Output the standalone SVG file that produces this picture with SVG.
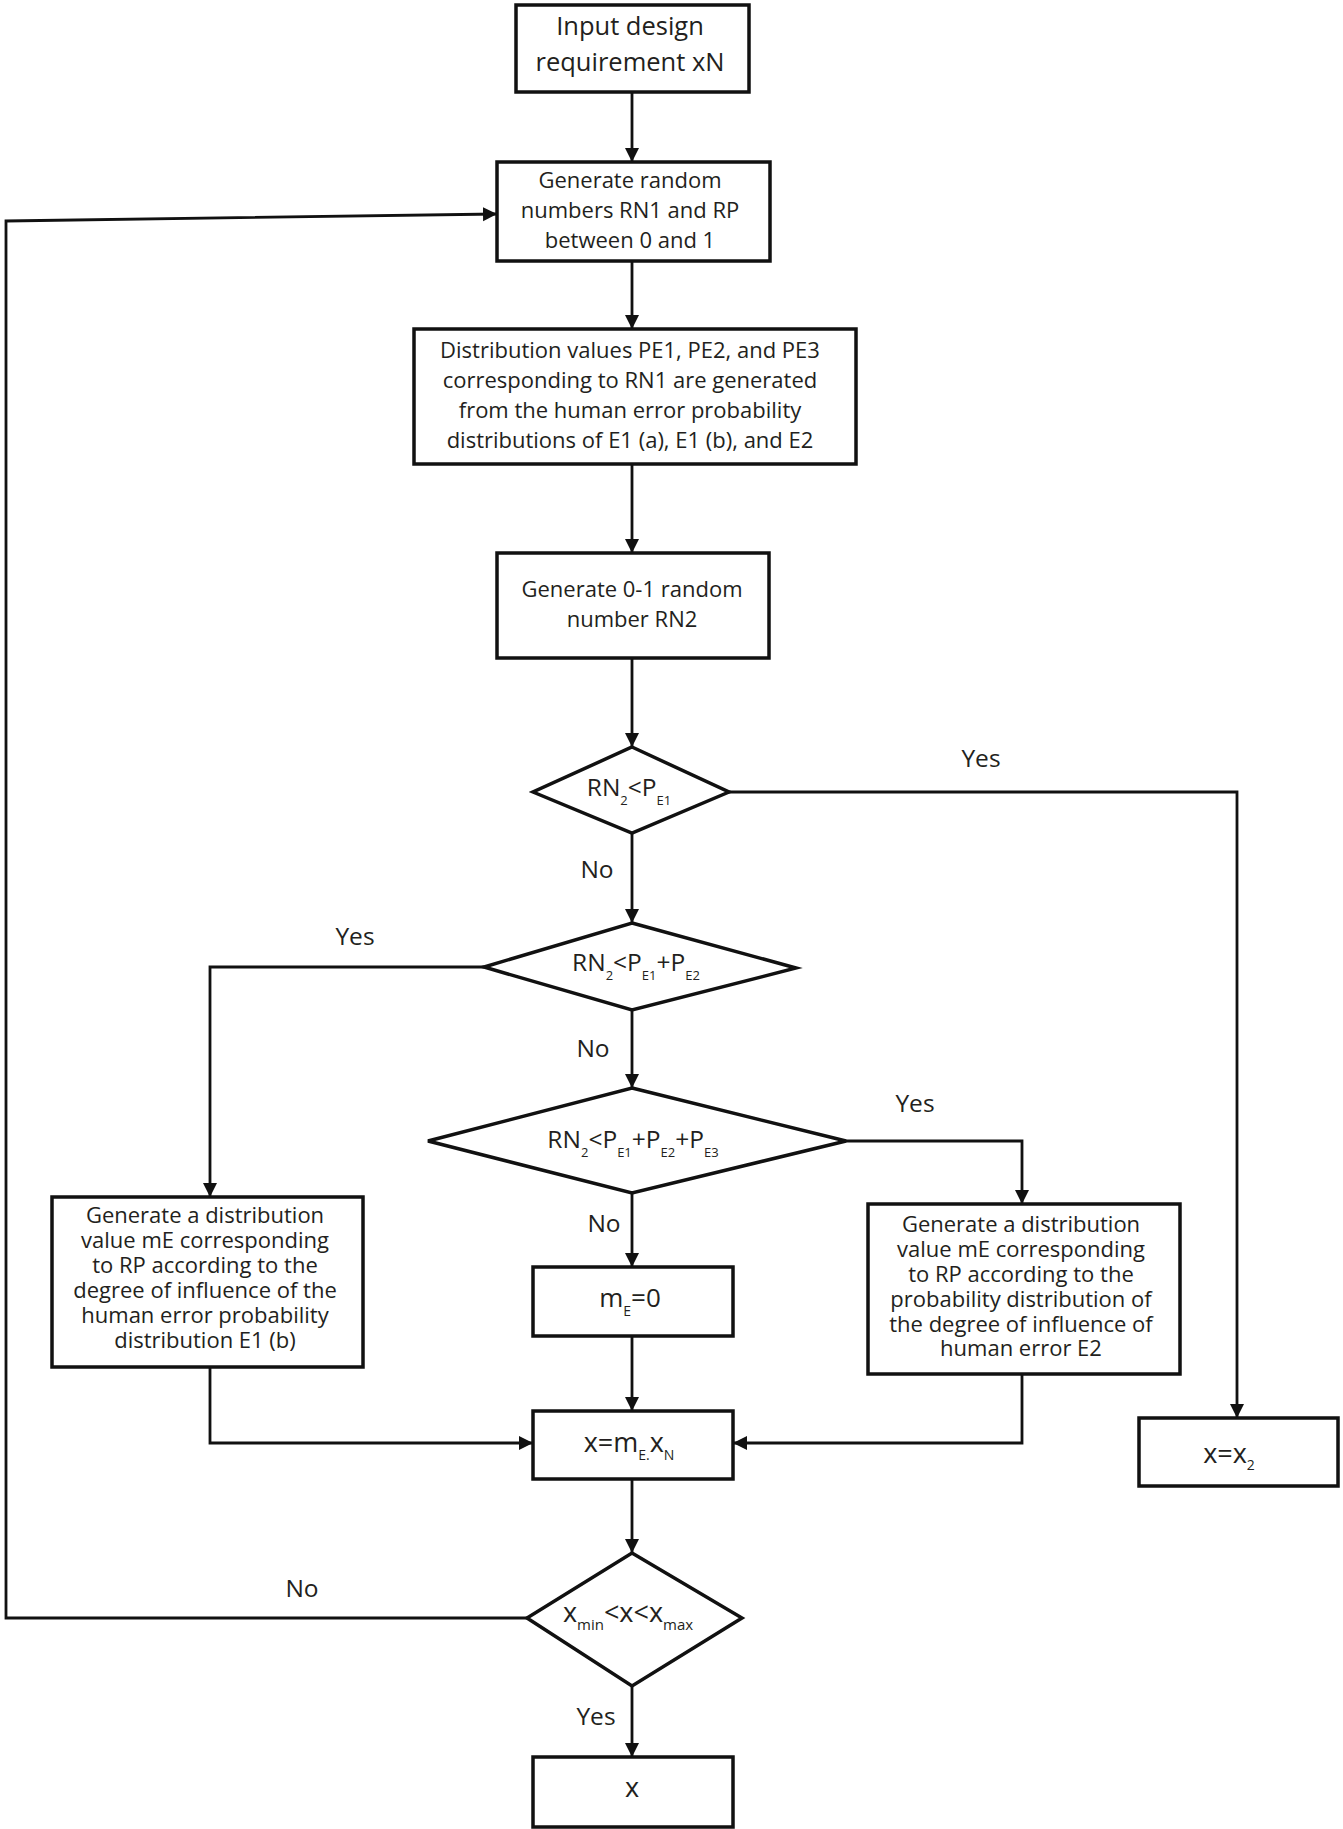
<svg xmlns="http://www.w3.org/2000/svg" width="1343" height="1829" viewBox="0 0 1343 1829">
<defs>
<marker id="ah" markerUnits="userSpaceOnUse" markerWidth="16" markerHeight="16" refX="14" refY="7" orient="auto">
<path d="M0,0 L14,7 L0,14 z" fill="#111"/>
</marker>
<style>
.box{fill:#fff;stroke:#111;stroke-width:3.5}
.con{fill:none;stroke:#111;stroke-width:2.8}
.arr{fill:none;stroke:#111;stroke-width:2.8;marker-end:url(#ah)}
text{font-family:"Open Sans","Liberation Sans",sans-serif;fill:#231f20;text-anchor:middle}
.t22{font-size:22px}
.t25{font-size:25.5px}
.lbl{font-size:24.5px}
.d{font-size:24.5px}
.sub{font-size:13px}
</style>
</defs>
<rect width="1343" height="1829" fill="#fff"/>

<g id="connectors">
<path class="arr" d="M632,92 L632,162"/>
<path class="arr" d="M632,261 L632,329"/>
<path class="arr" d="M632,464 L632,553"/>
<path class="arr" d="M632,658 L632,747"/>
<path class="arr" d="M632,833 L632,923"/>
<path class="arr" d="M729,792 L1237,792 L1237,1418"/>
<path class="arr" d="M484,967 L210,967 L210,1197"/>
<path class="arr" d="M632,1010 L632,1088"/>
<path class="arr" d="M846,1141 L1022,1141 L1022,1204"/>
<path class="arr" d="M632,1193 L632,1267"/>
<path class="arr" d="M632,1336 L632,1411"/>
<path class="arr" d="M210,1367 L210,1443 L533,1443"/>
<path class="arr" d="M1022,1374 L1022,1443 L733,1443"/>
<path class="arr" d="M632,1479 L632,1553"/>
<path class="arr" d="M632,1686 L632,1757"/>
<path class="arr" d="M527,1618 L6,1618 L6,221 L497,214"/>
<text class="lbl" x="981" y="767">Yes</text>
<text class="lbl" x="597" y="878">No</text>
<text class="lbl" x="355" y="945">Yes</text>
<text class="lbl" x="593" y="1057">No</text>
<text class="lbl" x="915" y="1112">Yes</text>
<text class="lbl" x="604" y="1232">No</text>
<text class="lbl" x="302" y="1597">No</text>
<text class="lbl" x="596" y="1725">Yes</text>
</g>

<g id="n_input">
<rect class="box" x="516" y="5" width="233" height="87"/>
<text class="t25" x="630" y="35">Input design</text>
<text class="t25" x="630" y="71">requirement xN</text>
</g>

<g id="n_rand1">
<rect class="box" x="497" y="162" width="273" height="99"/>
<text class="t22" x="630" y="188">Generate random</text>
<text class="t22" x="630" y="218">numbers RN1 and RP</text>
<text class="t22" x="630" y="248">between 0 and 1</text>
</g>

<g id="n_dist">
<rect class="box" x="414" y="329" width="442" height="135"/>
<text class="t22" x="630" y="358">Distribution values PE1, PE2, and PE3</text>
<text class="t22" x="630" y="388">corresponding to RN1 are generated</text>
<text class="t22" x="630" y="418">from the human error probability</text>
<text class="t22" x="630" y="448">distributions of E1 (a), E1 (b), and E2</text>
</g>

<g id="n_rand2">
<rect class="box" x="497" y="553" width="272" height="105"/>
<text class="t22" x="632" y="597">Generate 0-1 random</text>
<text class="t22" x="632" y="627">number RN2</text>
</g>

<g id="n_dec1">
<polygon class="box" points="632,747 729,792 632,833 533,792"/>
<text class="d" x="629" y="796">RN<tspan class="sub" dy="9">2</tspan><tspan dy="-9">&lt;P</tspan><tspan class="sub" dy="9">E1</tspan></text>
</g>

<g id="n_dec2">
<polygon class="box" points="632,923 796,968 632,1010 484,967"/>
<text class="d" x="636" y="971">RN<tspan class="sub" dy="9">2</tspan><tspan dy="-9">&lt;P</tspan><tspan class="sub" dy="9">E1</tspan><tspan dy="-9">+P</tspan><tspan class="sub" dy="9">E2</tspan></text>
</g>

<g id="n_dec3">
<polygon class="box" points="632,1088 846,1141 632,1193 428,1141"/>
<text class="d" x="633" y="1148">RN<tspan class="sub" dy="9">2</tspan><tspan dy="-9">&lt;P</tspan><tspan class="sub" dy="9">E1</tspan><tspan dy="-9">+P</tspan><tspan class="sub" dy="9">E2</tspan><tspan dy="-9">+P</tspan><tspan class="sub" dy="9">E3</tspan></text>
</g>

<g id="n_e1b">
<rect class="box" x="52" y="1197" width="311" height="170"/>
<text class="t22" x="205" y="1223">Generate a distribution</text>
<text class="t22" x="205" y="1248">value mE corresponding</text>
<text class="t22" x="205" y="1273">to RP according to the</text>
<text class="t22" x="205" y="1298">degree of influence of the</text>
<text class="t22" x="205" y="1323">human error probability</text>
<text class="t22" x="205" y="1348">distribution E1 (b)</text>
</g>

<g id="n_me0">
<rect class="box" x="533" y="1267" width="200" height="69"/>
<text style="font-size:26px" x="630" y="1307">m<tspan style="font-size:14px" dy="9">E</tspan><tspan dy="-9">=0</tspan></text>
</g>

<g id="n_e2">
<rect class="box" x="868" y="1204" width="312" height="170"/>
<text class="t22" x="1021" y="1232">Generate a distribution</text>
<text class="t22" x="1021" y="1257">value mE corresponding</text>
<text class="t22" x="1021" y="1282">to RP according to the</text>
<text class="t22" x="1021" y="1307">probability distribution of</text>
<text class="t22" x="1021" y="1332">the degree of influence of</text>
<text class="t22" x="1021" y="1356">human error E2</text>
</g>

<g id="n_x2">
<rect class="box" x="1139" y="1418" width="199" height="68"/>
<text style="font-size:27px" x="1229" y="1463">x=x<tspan style="font-size:14px" dy="7">2</tspan></text>
</g>

<g id="n_xme">
<rect class="box" x="533" y="1411" width="200" height="68"/>
<text style="font-size:27px" x="629" y="1452">x=m<tspan style="font-size:14px" dy="8">E</tspan><tspan style="font-size:14px">.</tspan><tspan dy="-8">x</tspan><tspan style="font-size:14px" dy="8">N</tspan></text>
</g>

<g id="n_dec4">
<polygon class="box" points="632,1553 742,1618 632,1686 527,1618"/>
<text style="font-size:27px" x="628" y="1622">x<tspan style="font-size:15px" dy="8">min</tspan><tspan dy="-8">&lt;x&lt;x</tspan><tspan style="font-size:15px" dy="8">max</tspan></text>
</g>

<g id="n_out">
<rect class="box" x="533" y="1757" width="200" height="70"/>
<text style="font-size:27px" x="632" y="1797">x</text>
</g>
</svg>
